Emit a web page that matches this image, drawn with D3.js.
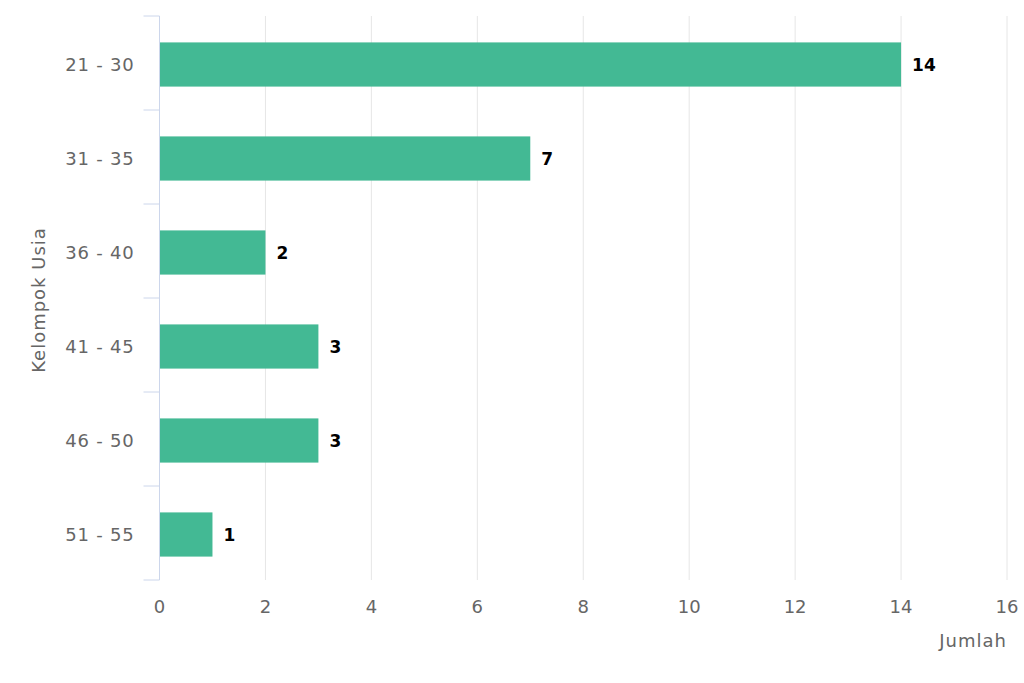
<!DOCTYPE html>
<html>
<head>
<meta charset="utf-8">
<script src="https://cdn.jsdelivr.net/npm/d3@7"></script>
<style>
  body { margin: 0; background: #fff; }
  svg { display: block; font-family: "DejaVu Sans", Verdana, sans-serif; }
</style>
</head>
<body>
<div id="chart"></div>
<script>
// age groups and counts
const categories = ["21 - 30", "31 - 35", "36 - 40", "41 - 45", "46 - 50", "51 - 55"];
const counts = [14, 7, 2, 3, 3, 1];
const xTicks = [0, 2, 4, 6, 8, 10, 12, 14, 16];

const data = categories.map((c, i) => ({ group: c, value: counts[i] }));

const W = 1024, H = 683;
const margin = { top: 16, right: 17, bottom: 103, left: 159.5 };
const width = W - margin.left - margin.right;
const height = H - margin.top - margin.bottom;

const svg = d3.select("#chart").append("svg")
  .attr("width", W)
  .attr("height", H);

const g = svg.append("g")
  .attr("transform", `translate(${margin.left},${margin.top})`);

const x = d3.scaleLinear().domain([0, 16]).range([0, width]);

// band scale for bars, step = height / 6
const y = d3.scaleBand()
  .domain(categories)
  .range([0, height])
  .paddingInner(0.53)
  .paddingOuter(0.265);

// vertical grid lines
g.selectAll(".grid")
  .data(xTicks.slice(1))
  .enter().append("line")
  .attr("class", "grid")
  .attr("x1", d => x(d)).attr("x2", d => x(d))
  .attr("y1", 0).attr("y2", height)
  .attr("stroke", "#e6e6e6")
  .attr("stroke-width", 1);

// bars
g.selectAll(".bar")
  .data(data)
  .enter().append("rect")
  .attr("class", "bar")
  .attr("x", x(0))
  .attr("y", d => y(d.group) + 1.5)
  .attr("width", d => x(d.value) - x(0))
  .attr("height", y.bandwidth())
  .attr("fill", "#43b994");

// data labels
g.selectAll(".bar-value")
  .data(data)
  .enter().append("text")
  .attr("class", "bar-value")
  .attr("x", d => x(d.value) + 11)
  .attr("y", d => y(d.group) + 1.5 + y.bandwidth() / 2)
  .attr("dy", "0.36em")
  .style("font-size", "17px")
  .style("font-weight", "bold")
  .style("fill", "#000")
  .text(d => d.value);

// y axis: line + ticks at category boundaries
const step = height / categories.length;
g.append("line")
  .attr("x1", 0).attr("x2", 0)
  .attr("y1", 0).attr("y2", height)
  .attr("stroke", "#ccd6eb");

g.selectAll(".ytick")
  .data(d3.range(categories.length + 1))
  .enter().append("line")
  .attr("class", "ytick")
  .attr("x1", -16).attr("x2", 0)
  .attr("y1", d => d * step).attr("y2", d => d * step)
  .attr("stroke", "#ccd6eb");

g.selectAll(".ylabel")
  .data(categories)
  .enter().append("text")
  .attr("class", "ylabel")
  .attr("x", -25)
  .attr("y", d => y(d) + 1.5 + y.bandwidth() / 2)
  .attr("dy", "0.36em")
  .attr("text-anchor", "end")
  .style("font-size", "18px")
  .style("letter-spacing", "0.8px")
  .style("fill", "#666666")
  .text(d => d);

// x axis tick labels
g.selectAll(".xlabel")
  .data(xTicks)
  .enter().append("text")
  .attr("class", "xlabel")
  .attr("x", d => x(d))
  .attr("y", height + 33)
  .attr("text-anchor", "middle")
  .style("font-size", "18px")
  .style("fill", "#666666")
  .text(d => d);

// axis titles
g.append("text")
  .attr("x", width)
  .attr("y", height + 67)
  .attr("text-anchor", "end")
  .style("font-size", "18px")
  .style("letter-spacing", "1px")
  .style("fill", "#666666")
  .text("Jumlah");

g.append("text")
  .attr("transform", "rotate(-90)")
  .attr("x", -height / 2 - 2)
  .attr("y", -115)
  .attr("text-anchor", "middle")
  .style("font-size", "18px")
  .style("letter-spacing", "1px")
  .style("fill", "#666666")
  .text("Kelompok Usia");
</script>
</body>
</html>
